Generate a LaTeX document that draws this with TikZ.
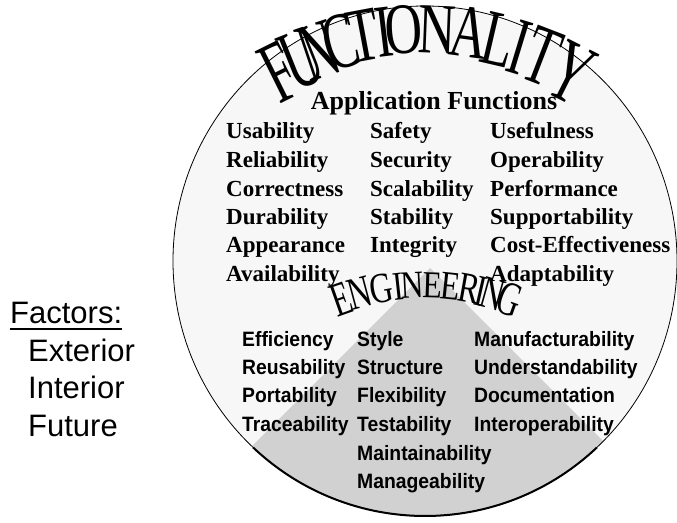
\documentclass[tikz,border=0pt]{standalone}
\usepackage{fontspec}
\usepackage{tikz}
\setmainfont{Liberation Serif}
\newfontfamily\factorfont{Liberation Sans}
\newfontfamily\engfont[FakeStretch=0.93]{Liberation Sans}

\begin{document}
\begin{tikzpicture}[x=1pt,y=1pt,
  appitem/.style={anchor=base west, inner sep=0pt, font=\fontsize{23}{23}\selectfont\bfseries},
  engitem/.style={anchor=base west, inner sep=0pt, font=\engfont\fontsize{20.8}{21}\selectfont\bfseries},
  factor/.style={anchor=base west, inner sep=0pt, font=\factorfont\fontsize{31}{31}\selectfont},
  archletter/.style={anchor=center, inner sep=0pt}]

\useasboundingbox (0,0) rectangle (677,522);

\def\cx{425}
  \def\cy{261}
  \def\rx{252}
  \def\ry{255}

% disc and engineering wedge
\fill[black!3] (\cx,\cy) ellipse [x radius=\rx, y radius=\ry];
\begin{scope}
  \clip (\cx,\cy) ellipse [x radius=\rx, y radius=\ry];
  \fill[black!18] (430,254) -- (30,-146) -- (830,-146) -- cycle;
\end{scope}
\draw[line width=0.8pt] (\cx,\cy) ellipse [x radius=\rx, y radius=\ry];
\draw[line width=2pt] (\cx,\cy) ++(-133:252 and 255)
   arc[start angle=-133, end angle=-47, x radius=\rx, y radius=\ry];

% arched titles, letter by letter (x = centre of the letter)
\foreach \ch / \x [count=\i] in
{F/279, U/302, N/319, C/341, T/363, I/384, O/404,
 N/437, A/469, L/499, I/520, T/542, Y/571}
{
   \pgfmathsetmacro\a{acos((\x-424)/266)}
   \pgfmathsetmacro\tilt{0.8*(\a-90)}
   \pgfmathsetmacro\grow{1+0.008*abs(\a-90)}
   \node[archletter, font=\fontsize{70}{70}\selectfont, rotate=\tilt, xscale=0.74, yscale=\grow]
      (func\i) at ([shift={(\a:266)}]424,227) {\ch};
}
\foreach \ch / \x [count=\i] in
{E/341, N/360, G/381, I/398, N/412, E/433,
 E/451, R/469, I/481, N/493, G/510}
{
   \pgfmathsetmacro\a{acos((\x-425)/252)}
   \pgfmathsetmacro\tilt{\a-90}
   \pgfmathsetmacro\grow{1+0.016*abs(\a-90)}
   \node[archletter, font=\fontsize{37}{37}\selectfont, rotate=\tilt, xscale=0.86, yscale=\grow]
      (engt\i) at ([shift={(\a:252)}]425,-15) {\ch};
}

\node[anchor=base, inner sep=0pt, font=\fontsize{26}{26}\selectfont\bfseries] (appfun) at (434,412) {Application Functions};

% exterior factors
\foreach \x / \y / \txt [count=\i] in
{226/383/Usability, 370/383/Safety, 490/383/Usefulness,
 226/354/Reliability, 370/354/Security, 490/354/Operability,
 226/325/Correctness, 370/325/Scalability, 490/325/Performance,
 226/297/Durability, 370/297/Stability, 490/297/Supportability,
 226/269/Appearance, 370/269/Integrity, 490/269/Cost-Effectiveness,
 226/240/Availability, 490/240/Adaptability}
   \node[appitem] (app\i) at (\x,\y) {\txt};

% interior factors
\foreach \x / \y / \txt [count=\i] in
{242/175/Efficiency, 357/175/Style, 474/175/Manufacturability,
 242/147/Reusability, 357/147/Structure, 474/147/Understandability,
 242/119/Portability, 357/119/Flexibility, 474/119/Documentation,
 242/90/Traceability, 357/90/Testability, 474/90/Interoperability,
 357/62/Maintainability,
 357/34/Manageability}
   \node[engitem] (eng\i) at (\x,\y) {\txt};

% legend
\node[factor] (factors) at (10,198) {Factors:};
\draw[line width=1.8pt] ([yshift=-5pt]factors.base west) -- ([yshift=-5pt]factors.base east);
\node[factor] (exterior) at (28,160) {Exterior};
\node[factor] (interior) at (28,123) {Interior};
\node[factor] (future) at (28,85) {Future};
\end{tikzpicture}
\end{document}
